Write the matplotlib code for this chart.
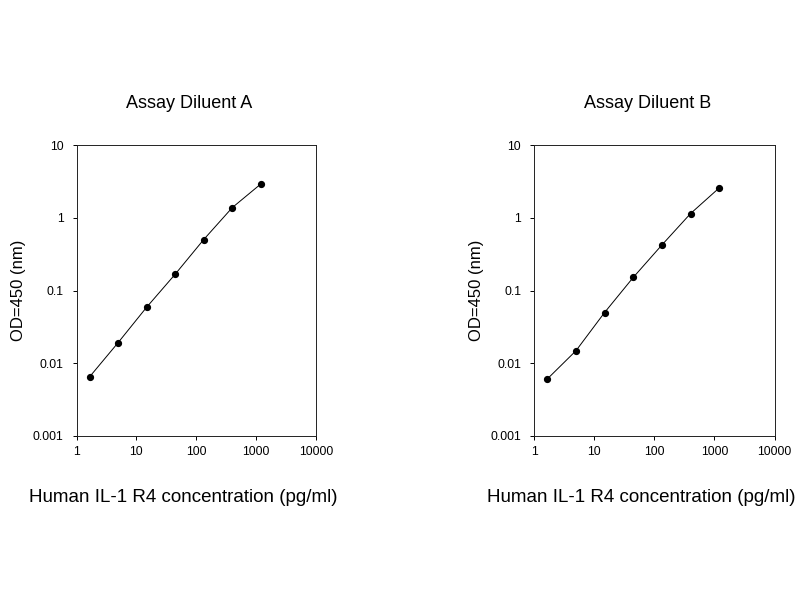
import matplotlib
matplotlib.use("Agg")
import matplotlib.pyplot as plt

plt.rcParams['font.family'] = ['Liberation Sans', 'DejaVu Sans']

conc = [1.65, 4.94, 14.8, 44.4, 133.3, 400, 1200]
od_a = [0.0065, 0.0192, 0.059, 0.168, 0.505, 1.39, 2.94]
od_b = [0.0061, 0.0149, 0.050, 0.152, 0.425, 1.15, 2.59]

titles = ["Assay Diluent A", "Assay Diluent B"]
xlabel = "Human IL-1 R4 concentration (pg/ml)"
ylabel = "OD=450 (nm)"
xticks = [1, 10, 100, 1000, 10000]
xticklabels = ["1", "10", "100", "1000", "10000"]
yticks = [0.001, 0.01, 0.1, 1, 10]
yticklabels = ["0.001", "0.01", "0.1", "1", "10"]

fig = plt.figure(figsize=(8, 6), dpi=100)
W, H = 800.0, 600.0

panels = [
    dict(left=76.5, right=316, data=od_a, title=titles[0], tx=189.5, xlx=183.7, ylx=19),
    dict(left=534.3, right=774.5, data=od_b, title=titles[1], tx=647.5, xlx=641.5, ylx=477),
]
top, bottom = 145.3, 436.0

for p in panels:
    ax = fig.add_axes([p['left'] / W, 1 - bottom / H, (p['right'] - p['left']) / W, (bottom - top) / H])
    ax.plot(conc, p['data'], color='black', lw=0.7, marker='o', markersize=4.2,
            markerfacecolor='black', markeredgecolor='black')
    ax.set_xscale('log')
    ax.set_yscale('log')
    ax.set_xlim(1, 10000)
    ax.set_ylim(0.001, 10)
    ax.set_xticks(xticks)
    ax.set_xticklabels(xticklabels)
    ax.set_yticks(yticks)
    ax.set_yticklabels(yticklabels)
    ax.minorticks_off()
    ax.tick_params(axis='both', direction='out', length=2.9, width=0.7, labelsize=8.8, colors='black')
    ax.tick_params(axis='x', pad=4.5)
    ax.tick_params(axis='y', pad=6.5)
    for s in ax.spines.values():
        s.set_linewidth(0.7)
        s.set_color('#222222')
    fig.text(p['tx'] / W, 1 - 103 / H, p['title'], ha='center', va='center', fontsize=13)
    fig.text(p['xlx'] / W, 1 - 497 / H, xlabel, ha='center', va='center', fontsize=13.5)
    fig.text(p['ylx'] / W, 1 - 290.5 / H, ylabel, ha='center', va='center', rotation=90, fontsize=12)

fig.savefig("out.png", dpi=100, facecolor='white')
